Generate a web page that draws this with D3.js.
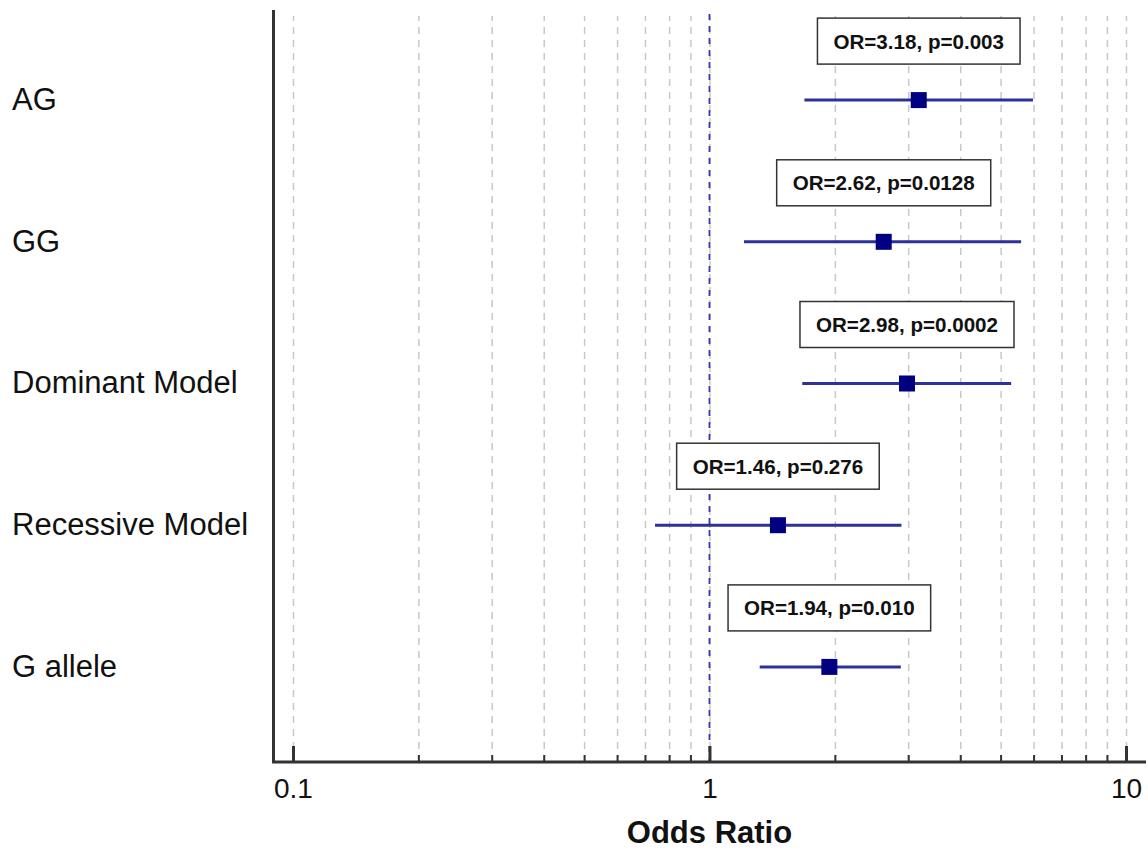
<!DOCTYPE html>
<html>
<head>
<meta charset="utf-8">
<script src="https://cdn.jsdelivr.net/npm/d3@7"></script>
<style>
  body { margin: 0; background: #fff; }
  svg { display: block; font-family: 'Liberation Sans', Arial, sans-serif; }
  .grid line { stroke: #c8c8c8; stroke-width: 1.5; stroke-dasharray: 7,6; }
  .grid path { display: none; }
</style>
</head>
<body>
<div id="forest"></div>
<script>
// data
const categories = ['AG', 'GG', 'Dominant Model', 'Recessive Model', 'G allele'];
const oddsRatio = [3.18, 2.62, 2.98, 1.46, 1.94];
const ciLow = [1.69, 1.21, 1.67, 0.74, 1.32];
const ciHigh = [5.98, 5.60, 5.30, 2.89, 2.88];
const pValues = ['0.003', '0.0128', '0.0002', '0.276', '0.010'];
const majorTicks = [0.1, 1, 10];
const minorTicks = [0.2, 0.3, 0.4, 0.5, 0.6, 0.7, 0.8, 0.9, 2, 3, 4, 5, 6, 7, 8, 9];

const width = 1148;
const height = 854;
const plot = { left: 272, right: 1146, top: 10, bottom: 762 };

const rows = categories.map((c, i) => ({
    name: c, or: oddsRatio[i], lo: ciLow[i], hi: ciHigh[i], p: pValues[i]
}));

const svg = d3.select('#forest').append('svg')
    .attr('width', width)
    .attr('height', height);

const xScale = d3.scaleLog()
    .domain([0.08905, 11.17])
    .range([plot.left, plot.right]);

const yScale = d3.scalePoint()
    .domain(categories)
    .range([plot.top - 3, plot.bottom - 2])
    .padding(0.657);

// dashed grid lines
svg.append('g')
    .attr('class', 'grid')
    .attr('transform', 'translate(0,' + plot.bottom + ')')
    .call(d3.axisBottom(xScale)
        .tickValues(majorTicks.concat(minorTicks))
        .tickSize(-(plot.bottom - plot.top - 6))
        .tickFormat(''));

// reference line at OR = 1
svg.append('line')
    .attr('x1', xScale(1))
    .attr('x2', xScale(1))
    .attr('y1', plot.top + 4)
    .attr('y2', plot.bottom)
    .attr('stroke', '#3535b5')
    .attr('stroke-width', 1.8)
    .attr('stroke-dasharray', '6,6');

// minor ticks
svg.append('g')
    .attr('transform', 'translate(0,' + plot.bottom + ')')
    .call(d3.axisBottom(xScale)
        .tickValues(minorTicks)
        .tickSize(-7)
        .tickFormat(''))
    .call(g => g.select('.domain').remove())
    .call(g => g.selectAll('line').attr('stroke', '#333').attr('stroke-width', 2));

// major ticks + labels
const xAxis = svg.append('g')
    .attr('transform', 'translate(0,' + plot.bottom + ')')
    .call(d3.axisBottom(xScale)
        .tickValues(majorTicks)
        .tickSize(-16)
        .tickPadding(16)
        .tickFormat(d => d3.format('')(d)));
xAxis.select('.domain').remove();
xAxis.selectAll('line').attr('stroke', '#333').attr('stroke-width', 3);
xAxis.selectAll('text')
    .attr('font-size', 28)
    .attr('font-family', 'Liberation Sans, Arial, sans-serif')
    .attr('fill', '#111');

// axis frame: left + bottom
svg.append('path')
    .attr('d', 'M' + (plot.left + 1.5) + ',' + plot.top +
        'V' + plot.bottom + 'H' + plot.right)
    .attr('fill', 'none')
    .attr('stroke', '#333')
    .attr('stroke-width', 3);

// category labels
svg.selectAll('.cat')
    .data(rows)
    .enter().append('text')
    .attr('class', 'cat')
    .attr('x', 12)
    .attr('y', d => yScale(d.name))
    .attr('dy', '0.32em')
    .attr('font-size', 31)
    .attr('fill', '#111')
    .text(d => d.name);

// confidence intervals
svg.selectAll('.ci')
    .data(rows)
    .enter().append('line')
    .attr('class', 'ci')
    .attr('x1', d => xScale(d.lo))
    .attr('x2', d => xScale(d.hi))
    .attr('y1', d => yScale(d.name))
    .attr('y2', d => yScale(d.name))
    .attr('stroke', '#2e3199')
    .attr('stroke-width', 3);

// point estimates
const sq = 16;
svg.selectAll('.dot')
    .data(rows)
    .enter().append('rect')
    .attr('class', 'dot')
    .attr('x', d => xScale(d.or) - sq / 2)
    .attr('y', d => yScale(d.name) - sq / 2)
    .attr('width', sq)
    .attr('height', sq)
    .attr('fill', '#000080');

// annotation boxes
const notes = svg.selectAll('.note')
    .data(rows)
    .enter().append('g')
    .attr('class', 'note')
    .attr('transform', d => 'translate(' + xScale(d.or) + ',' + (yScale(d.name) - 59) + ')');

notes.append('rect')
    .attr('fill', '#fff')
    .attr('stroke', '#333')
    .attr('stroke-width', 1.5);

notes.append('text')
    .attr('text-anchor', 'middle')
    .attr('dy', '0.36em')
    .attr('font-size', 20.6)
    .attr('font-weight', 'bold')
    .attr('fill', '#111')
    .text(d => 'OR=' + d.or.toFixed(2) + ', p=' + d.p);

notes.each(function() {
    const w = d3.select(this).select('text').node().getComputedTextLength() + 32;
    d3.select(this).select('rect')
        .attr('x', -w / 2)
        .attr('y', -23)
        .attr('width', w)
        .attr('height', 46);
});

// axis title
svg.append('text')
    .attr('x', xScale(1))
    .attr('y', 843)
    .attr('text-anchor', 'middle')
    .attr('font-size', 31)
    .attr('font-weight', 'bold')
    .attr('fill', '#111')
    .text('Odds Ratio');
</script>
</body>
</html>
